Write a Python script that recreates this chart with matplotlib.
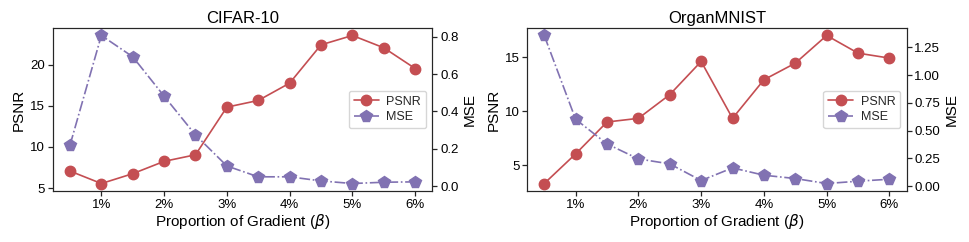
import matplotlib
matplotlib.use('Agg')
import matplotlib.pyplot as plt
import seaborn as sns

sns.set_style('ticks')
plt.rcParams['font.family'] = ['Liberation Sans', 'DejaVu Sans']
plt.rcParams['mathtext.fontset'] = 'dejavusans'

# x positions in % of gradient
beta = [0.5, 1.0, 1.5, 2.0, 2.5, 3.0, 3.5, 4.0, 4.5, 5.0, 5.5, 6.0]
xticks = [1, 2, 3, 4, 5, 6]
xticklabels = ['1%', '2%', '3%', '4%', '5%', '6%']

# CIFAR-10
cifar_psnr = [7.07, 5.55, 6.75, 8.25, 9.05, 14.85, 15.66, 17.77, 22.43, 23.57, 22.07, 19.55]
cifar_mse = [0.219, 0.807, 0.693, 0.482, 0.274, 0.108, 0.050, 0.050, 0.028, 0.014, 0.021, 0.023]

# OrganMNIST
organ_psnr = [3.30, 6.05, 9.01, 9.35, 11.55, 14.63, 9.35, 12.93, 14.47, 17.04, 15.40, 14.94]
organ_mse = [1.358, 0.603, 0.381, 0.246, 0.201, 0.051, 0.165, 0.099, 0.069, 0.024, 0.045, 0.063]

titles = ['CIFAR-10', 'OrganMNIST']
psnr_sets = [cifar_psnr, organ_psnr]
mse_sets = [cifar_mse, organ_mse]

red = '#C44E52'
purple = '#8172B2'

fig, axes = plt.subplots(1, 2, figsize=(9.69, 2.42), dpi=100)
fig.subplots_adjust(left=0.0544, right=0.9357, top=0.884, bottom=0.211, wspace=0.249)

for ax, title, psnr, mse in zip(axes, titles, psnr_sets, mse_sets):
    l1, = ax.plot(beta, psnr, color=red, marker='o', markersize=7.5,
                  linewidth=1.2, label='PSNR')
    ax2 = ax.twinx()
    l2, = ax2.plot(beta, mse, color=purple, marker='p', markersize=8.5,
                   linewidth=1.2, linestyle='-.', label='MSE')
    ax.set_xticks(xticks)
    ax.set_xticklabels(xticklabels)
    ax.set_title(title, fontsize=12, pad=4, color='black')
    ax.set_xlabel(r'Proportion of Gradient ($\beta$)', fontsize=11, labelpad=1, color='black')
    ax.set_ylabel('PSNR', fontsize=11, labelpad=3, color='black')
    ax2.set_ylabel('MSE', fontsize=11, labelpad=3, color='black')
    for a in (ax, ax2):
        a.tick_params(labelsize=9.5, length=3.5, width=0.9, pad=2, labelcolor='black')
    ax2.legend([l1, l2], ['PSNR', 'MSE'], loc='center right', fontsize=9,
               borderpad=0.4, labelspacing=0.3, handletextpad=0.6)

fig.savefig('out.png', dpi=100)
